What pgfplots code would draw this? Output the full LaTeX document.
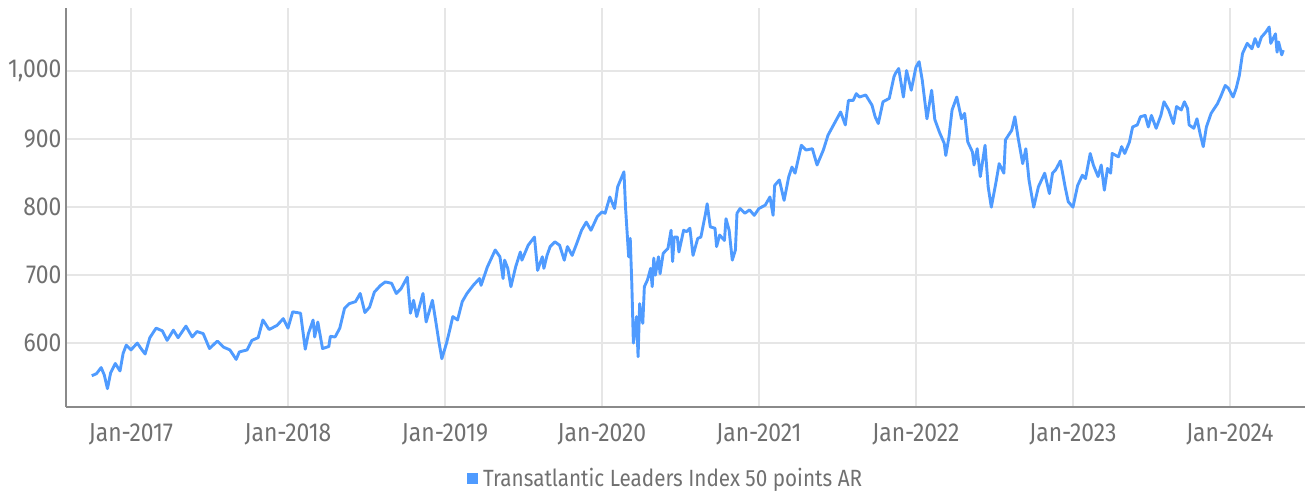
\documentclass[border=0pt]{standalone}
\usepackage{pgfplots}
\pgfplotsset{compat=1.18}
\usepackage{fontspec}
\setmainfont{Fira Sans}[FakeStretch=0.88]
\definecolor{lineblue}{HTML}{4F9BFF}
\definecolor{gridgray}{HTML}{E6E6E6}
\definecolor{axisgray}{HTML}{8A8A8A}
\definecolor{textgray}{HTML}{707070}
\begin{document}
\begin{tikzpicture}
\begin{axis}[
  scale only axis,
  width=1239bp, height=399bp,
  xmin=2016.586, xmax=2024.478,
  ymin=506, ymax=1093,
  axis x line=bottom, axis y line=left,
  axis line style={draw=axisgray, line width=1.6bp, -},
  xtick={2017,2018,2019,2020,2021,2022,2023,2024},
  xticklabels={Jan-2017,Jan-2018,Jan-2019,Jan-2020,Jan-2021,Jan-2022,Jan-2023,Jan-2024},
  ytick={600,700,800,900,1000},
  yticklabels={600,700,800,900,{1,000}},
  major tick length=0pt,
  grid=major,
  major grid style={draw=gridgray, line width=2bp},
  tick label style={font=\fontsize{26bp}{28bp}\selectfont, text=textgray},
  xticklabel style={yshift=-13bp},
  yticklabel style={xshift=-1bp},
  legend style={at={(0.484,-0.178)}, anchor=center, draw=none, fill=none,
    font=\fontsize{23.5bp}{26bp}\selectfont, text=textgray,
    legend cell align=left},
  legend image code/.code={\fill[lineblue, draw=none] (0bp,-5.5bp) rectangle (11bp,5.5bp); \path[draw=none] (11bp,0bp) -- (14bp,0bp);},
  clip=false,
]
\addplot[lineblue, line width=2.9bp, line join=round] coordinates {
(2016.75,552)(2016.78,555)(2016.81,564)(2016.83,553)(2016.85,533)(2016.87,556)(2016.90,570)(2016.93,559)(2016.95,585)(2016.97,597)
(2017.00,590)(2017.04,600)(2017.07,590)(2017.09,584)(2017.12,608)(2017.16,622)(2017.20,618)(2017.23,604)(2017.27,619)(2017.30,608)
(2017.35,625)(2017.39,609)(2017.42,617)(2017.46,614)(2017.50,592)(2017.55,603)(2017.59,594)(2017.63,590)(2017.67,576)(2017.69,587)
(2017.74,590)(2017.77,604)(2017.81,608)(2017.84,634)(2017.88,620)(2017.93,626)(2017.97,636)(2018.00,622)(2018.03,646)(2018.08,644)
(2018.11,591)(2018.13,614)(2018.16,634)(2018.17,609)(2018.19,631)(2018.22,592)(2018.26,595)(2018.27,610)(2018.30,609)(2018.33,622)
(2018.36,651)(2018.39,658)(2018.43,661)(2018.46,673)(2018.49,645)(2018.52,653)(2018.55,675)(2018.59,685)(2018.62,690)(2018.66,688)
(2018.69,673)(2018.72,680)(2018.76,697)(2018.78,644)(2018.80,663)(2018.82,639)(2018.86,673)(2018.88,631)(2018.92,663)(2018.94,634)
(2018.96,604)(2018.98,577)(2019.01,600)(2019.03,619)(2019.05,639)(2019.08,634)(2019.11,661)(2019.14,673)(2019.18,685)(2019.22,695)
(2019.23,685)(2019.27,712)(2019.32,737)(2019.35,727)(2019.37,695)(2019.38,722)(2019.40,710)(2019.42,683)(2019.45,712)(2019.48,734)
(2019.49,722)(2019.53,744)(2019.57,756)(2019.59,707)(2019.62,727)(2019.63,710)(2019.65,729)(2019.67,742)(2019.70,749)(2019.73,744)
(2019.76,722)(2019.78,742)(2019.81,729)(2019.84,747)(2019.87,766)(2019.90,778)(2019.93,766)(2019.97,786)(2020.00,793)(2020.02,791)
(2020.05,815)(2020.08,798)(2020.10,830)(2020.14,852)(2020.15,800)(2020.17,727)(2020.18,754)(2020.19,688)(2020.20,600)(2020.22,639)
(2020.23,580)(2020.24,658)(2020.26,629)(2020.27,683)(2020.29,693)(2020.31,710)(2020.32,683)(2020.33,725)(2020.34,700)(2020.36,727)
(2020.37,702)(2020.39,732)(2020.41,737)(2020.42,739)(2020.44,766)(2020.45,720)(2020.46,756)(2020.48,756)(2020.49,734)(2020.52,766)
(2020.54,764)(2020.56,769)(2020.58,729)(2020.61,754)(2020.63,756)(2020.66,791)(2020.67,805)(2020.69,771)(2020.72,769)(2020.73,742)
(2020.75,759)(2020.78,751)(2020.79,783)(2020.81,766)(2020.83,722)(2020.85,737)(2020.86,791)(2020.88,798)(2020.91,791)(2020.94,796)
(2020.97,788)(2021.00,798)(2021.04,803)(2021.07,815)(2021.09,788)(2021.10,832)(2021.13,840)(2021.16,810)(2021.19,845)(2021.21,859)
(2021.23,850)(2021.27,891)(2021.30,884)(2021.34,886)(2021.37,862)(2021.41,884)(2021.44,906)(2021.48,923)(2021.52,940)(2021.55,921)
(2021.57,957)(2021.60,957)(2021.62,967)(2021.64,962)(2021.68,965)(2021.72,950)(2021.74,933)(2021.76,923)(2021.79,955)(2021.83,960)
(2021.86,992)(2021.87,997)(2021.89,1004)(2021.92,962)(2021.94,1001)(2021.97,972)(2022.00,1006)(2022.02,1014)(2022.04,987)(2022.07,930)
(2022.10,972)(2022.12,929)(2022.15,910)(2022.18,894)(2022.19,876)(2022.21,903)(2022.23,943)(2022.26,962)(2022.29,930)(2022.31,938)
(2022.33,896)(2022.36,881)(2022.37,862)(2022.39,886)(2022.41,845)(2022.44,891)(2022.46,830)(2022.48,800)(2022.51,837)(2022.53,864)
(2022.56,850)(2022.57,899)(2022.61,913)(2022.63,933)(2022.65,903)(2022.68,864)(2022.70,886)(2022.72,840)(2022.75,800)(2022.78,830)
(2022.82,850)(2022.85,820)(2022.87,850)(2022.89,855)(2022.92,868)(2022.95,830)(2022.97,808)(2023.00,800)(2023.03,832)(2023.06,847)
(2023.08,842)(2023.11,879)(2023.13,862)(2023.16,845)(2023.18,862)(2023.20,825)(2023.22,857)(2023.24,850)(2023.25,879)(2023.29,874)
(2023.31,889)(2023.33,879)(2023.36,896)(2023.38,918)(2023.41,921)(2023.43,933)(2023.46,935)(2023.48,918)(2023.50,935)(2023.53,916)
(2023.56,935)(2023.58,955)(2023.61,943)(2023.64,923)(2023.66,948)(2023.69,943)(2023.71,955)(2023.73,945)(2023.74,921)(2023.77,916)
(2023.79,930)(2023.81,908)(2023.83,889)(2023.85,918)(2023.88,938)(2023.92,952)(2023.94,962)(2023.97,979)(2023.99,975)(2024.02,962)
(2024.04,975)(2024.06,994)(2024.08,1026)(2024.11,1041)(2024.14,1033)(2024.16,1048)(2024.18,1036)(2024.20,1050)(2024.23,1058)(2024.25,1065)
(2024.26,1041)(2024.29,1055)(2024.30,1028)(2024.31,1043)(2024.33,1024)(2024.34,1031)
};
\addlegendentry{Transatlantic Leaders Index 50 points AR}
\end{axis}
\pgfresetboundingbox
\useasboundingbox (-66bp,-86bp) rectangle (1240bp,407bp);
\end{tikzpicture}
\end{document}
